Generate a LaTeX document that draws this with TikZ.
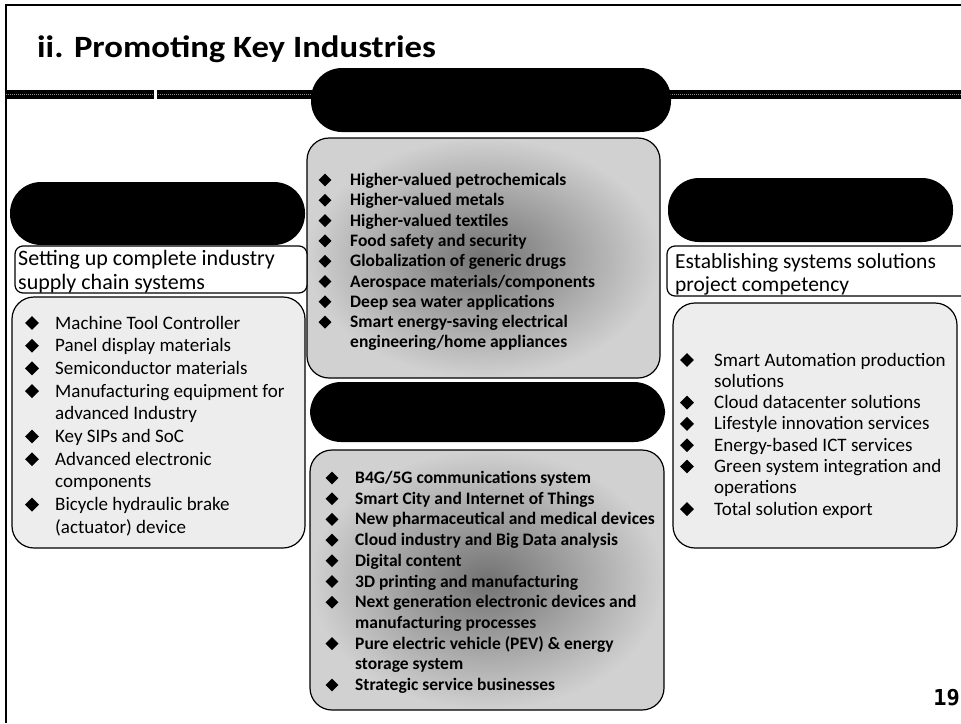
\documentclass[tikz,border=0pt]{standalone}
\usepackage{fontspec}
\usetikzlibrary{shapes.geometric}
\setmainfont{Carlito}
\newfontfamily\numf{DejaVu Sans Mono}
\begin{document}
\begin{tikzpicture}[x=1pt,y=-1pt,
  pill/.style={fill=black, rounded corners=31pt, inner sep=0pt},
  subbox/.style={draw=black, line width=1.2pt, fill=white, rounded corners=8pt, inner sep=0pt},
  listbox/.style={draw=black, line width=1.2pt, fill=black!7, rounded corners=22pt, inner sep=0pt},
  graybox/.style={draw=black, line width=1.2pt, rounded corners=22pt, inner sep=0pt,
     shade, shading=radial, inner color=black!55, outer color=black!18},
  blt/.style={diamond, fill=black, inner sep=0pt, minimum width=14pt, minimum height=14pt},
  sblt/.style={diamond, fill=black, inner sep=0pt, minimum width=13pt, minimum height=13pt},
  itm/.style={anchor=base west, inner sep=0pt, font=\fontsize{19}{22}\selectfont},
  citm/.style={anchor=base west, inner sep=0pt, font=\bfseries\fontsize{17.5}{20}\selectfont},
  subtxt/.style={anchor=base west, inner sep=0pt, font=\fontsize{22}{24}\selectfont}]
\useasboundingbox (0,0) rectangle (961,723);
% frame
\draw[line width=1.5pt] (6,723) -- (6,5) -- (961,5);
% header bar
\fill[black] (6,90) rectangle (961,99);
\draw[black!45, line width=0.8pt, dash pattern=on 1pt off 1pt] (6,94.5) -- (961,94.5);
\fill[white] (154,90) rectangle (156.5,99);
% title
\node[anchor=base west, inner sep=0pt] (title) at (37,57)
  {\scalebox{1.12}[1]{\fontsize{31}{31}\selectfont\bfseries ii. Promoting Key Industries}};
% center column
\node[pill, minimum width=360pt, minimum height=64pt] (cpill1) at (491,100) {};
\node[graybox, minimum width=353pt, minimum height=240pt] (cbox1) at (483.5,258) {};
\node[pill, minimum width=355pt, minimum height=60pt] (cpill2) at (487.5,412) {};
\node[graybox, minimum width=354pt, minimum height=260pt] (cbox2) at (487,580) {};
% left column
\node[pill, minimum width=295pt, minimum height=63pt] (lpill) at (157.5,213.5) {};
\node[subbox, minimum width=292pt, minimum height=47pt] (lsub) at (161,269.5) {};
\node[listbox, minimum width=293pt, minimum height=251pt] (lbox) at (158.5,422.5) {};
% right column
\node[pill, minimum width=285pt, minimum height=64pt] (rpill) at (810.5,210) {};
\node[subbox, minimum width=310pt, minimum height=50pt] (rsub) at (822,271) {};
\node[listbox, minimum width=284pt, minimum height=245pt] (rbox) at (815,425.5) {};
% subtitles
\node[subtxt] (ls1) at (18,265) {Setting up complete industry};
\node[subtxt] (ls2) at (18,289) {supply chain systems};
\node[subtxt, font=\fontsize{21.5}{24}\selectfont] (rs1) at (675,268) {Establishing systems solutions};
\node[subtxt, font=\fontsize{21.5}{24}\selectfont] (rs2) at (675,291) {project competency};
% left list
\foreach \y/\b/\t [count=\i] in {
  329/1/{Machine Tool Controller},
  351.7/1/{Panel display materials},
  374.4/1/{Semiconductor materials},
  397.1/1/{Manufacturing equipment for},
  419.8/0/{advanced Industry},
  442.5/1/{Key SIPs and SoC},
  465.2/1/{Advanced electronic},
  487.9/0/{components},
  510.6/1/{Bicycle hydraulic brake},
  533.3/0/{(actuator) device}}{
  \node[itm] (L\i) at (55,\y) {\t};
  \ifnum\b=1 \node[blt] (LB\i) at (32,\y-6) {};\fi
}
% right list
\foreach \y/\b/\t [count=\i] in {
  366/1/{Smart Automation production},
  387.3/0/{solutions},
  408.6/1/{Cloud datacenter solutions},
  429.9/1/{Lifestyle innovation services},
  451.2/1/{Energy-based ICT services},
  472.5/1/{Green system integration and},
  493.8/0/{operations},
  515.1/1/{Total solution export}}{
  \node[itm] (R\i) at (714,\y) {\t};
  \ifnum\b=1 \node[blt] (RB\i) at (687,\y-6) {};\fi
}
% center upper list
\foreach \y/\b/\t [count=\i] in {
  185.5/1/{Higher-valued petrochemicals},
  205.8/1/{Higher-valued metals},
  226.1/1/{Higher-valued textiles},
  246.4/1/{Food safety and security},
  266.7/1/{Globalization of generic drugs},
  287.0/1/{Aerospace materials/components},
  307.3/1/{Deep sea water applications},
  327.6/1/{Smart energy-saving electrical},
  347.9/0/{engineering/home appliances}}{
  \node[citm] (U\i) at (350,\y) {\t};
  \ifnum\b=1 \node[sblt] (UB\i) at (325,\y-5.5) {};\fi
}
% center lower list
\foreach \y/\b/\t [count=\i] in {
  483.5/1/{B4G/5G communications system},
  504.2/1/{Smart City and Internet of Things},
  524.9/1/{New pharmaceutical and medical devices},
  545.6/1/{Cloud industry and Big Data analysis},
  566.3/1/{Digital content},
  587.0/1/{3D printing and manufacturing},
  607.7/1/{Next generation electronic devices and},
  628.4/0/{manufacturing processes},
  649.1/1/{Pure electric vehicle (PEV) \& energy},
  669.8/0/{storage system},
  690.5/1/{Strategic service businesses}}{
  \node[citm] (D\i) at (355,\y) {\t};
  \ifnum\b=1 \node[sblt] (DB\i) at (332,\y-5.5) {};\fi
}
% page number
\node[anchor=base east, inner sep=0pt, font=\numf\bfseries\fontsize{22}{22}\selectfont] (pnum) at (960,705) {19};
\end{tikzpicture}
\end{document}
